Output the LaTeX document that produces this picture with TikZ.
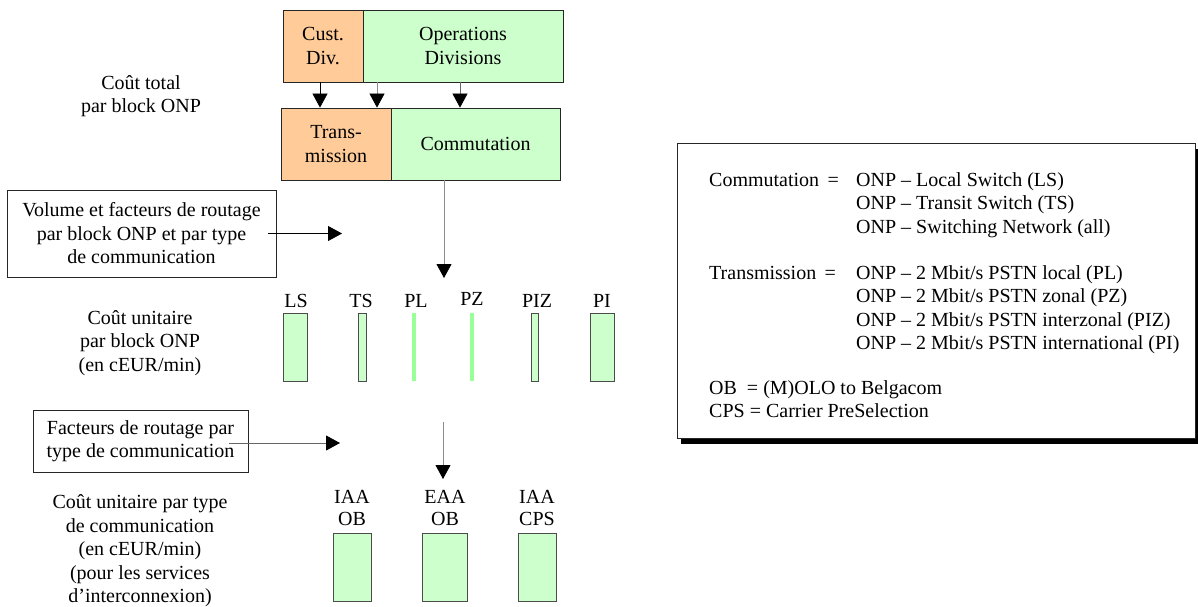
\documentclass[tikz,border=0pt]{standalone}
\usepackage{fontspec}
\setmainfont{Liberation Serif}
\newfontfamily\timesfam{Liberation Serif}
\usetikzlibrary{arrows.meta,shadows}
\definecolor{peach}{HTML}{FFCC99}
\definecolor{mint}{HTML}{CCFFCC}
\definecolor{lime}{HTML}{99FF99}
\begin{document}
\begin{tikzpicture}[x=1pt,y=-1pt,
  txt/.style={font=\timesfam\fontsize{20}{23.5}\selectfont, inner sep=0pt, align=center},
  block/.style={txt, draw=black!85, line width=0.8pt},
  orangebox/.style={block, fill=peach},
  greenbox/.style={block, fill=mint},
  framebox/.style={block, fill=white},
  bar/.style={draw=black!70, line width=0.9pt, fill=mint, inner sep=0pt},
  slimbar/.style={fill=lime, draw=none, inner sep=0pt, minimum width=4pt},
  arr/.style={draw=black!60, line width=0.8pt, -{Triangle[length=14pt,width=15pt,color=black]}},
  legtext/.style={txt, anchor=base west, align=left}]
\useasboundingbox (0,0) rectangle (1198,607);

% cost centres and ONP blocks
\node[orangebox, minimum width=80pt, minimum height=72pt] (cust) at (323,46) {Cust.\\Div.};
\node[greenbox, minimum width=200pt, minimum height=72pt] (ops) at (463,46) {Operations\\Divisions};
\node[orangebox, minimum width=110pt, minimum height=72pt] (trans) at (336,144) {Trans-\\mission};
\node[greenbox, minimum width=169pt, minimum height=72pt] (comm) at (475.5,144) {Commutation};

\draw[arr, draw=black] (cust.south -| 320,0) -- (trans.north -| 320,0);
\draw[arr, draw=black!45] (ops.south -| 377,0) -- (trans.north -| 377,0);
\draw[arr] (ops.south -| 460,0) -- (comm.north -| 460,0);

% left-hand captions
\node[txt] (ctotal) at (141,96) {Coût total\\par block ONP};
\node[txt] (cunit) at (140,343) {Coût unitaire\\par block ONP\\(en cEUR/min)};
\node[txt] (ctype) at (140,551) {Coût unitaire par type\\de communication\\(en cEUR/min)\\(pour les services\\d’interconnexion)};

% routing factors, first stage
\node[framebox, minimum width=269pt, minimum height=87pt] (vol) at (141.5,233.5)
  {Volume et facteurs de routage\\par block ONP et par type\\de communication};
\coordinate (volend) at (342,233.5);
\draw[arr, draw=black] ([xshift=-8pt]vol.east) -- (volend);
\coordinate (hubA) at (444,278);
\draw[arr, draw=black!45] (comm.south -| hubA) -- (hubA);

% unit cost per ONP block
\node[bar, minimum width=24pt, minimum height=68pt] (ls) at (295,347) {};
\node[bar, minimum width=8pt, minimum height=68pt] (ts) at (362,347) {};
\node[slimbar, minimum height=68pt] (pl) at (414,347) {};
\node[slimbar, minimum height=68pt] (pz) at (472,347) {};
\node[bar, minimum width=7pt, minimum height=68pt] (piz) at (534.5,347) {};
\node[bar, minimum width=24pt, minimum height=68pt] (pi) at (602,347) {};
\node[txt] (lsl) at (296,301) {LS};
\node[txt] (tsl) at (361,301) {TS};
\node[txt] (pll) at (416,301) {PL};
\node[txt] (pzl) at (472,299) {PZ};
\node[txt] (pizl) at (537,301) {PIZ};
\node[txt] (pil) at (602,301) {PI};

% routing factors, second stage
\node[framebox, minimum width=215pt, minimum height=62pt] (fact) at (140.5,441)
  {Facteurs de routage par\\type de communication};
\coordinate (factend) at (340,443);
\draw[arr] (fact.east |- factend) ++(-19,0) -- (factend);
\coordinate (hubBtop) at (443,422);
\coordinate (hubB) at (443,479);
\draw[arr, draw=black!45] (hubBtop) -- (hubB);

% unit cost per communication type
\node[bar, minimum width=38pt, minimum height=68pt] (iaaob) at (352,567) {};
\node[bar, minimum width=45pt, minimum height=68pt] (eaaob) at (444.5,567) {};
\node[bar, minimum width=38pt, minimum height=68pt] (iaacps) at (537,567) {};
\node[txt, font=\timesfam\fontsize{20}{22}\selectfont] (iaaobl) at (352,508) {IAA\\OB};
\node[txt, font=\timesfam\fontsize{20}{22}\selectfont] (eaaobl) at (445,508) {EAA\\OB};
\node[txt, font=\timesfam\fontsize{20}{22}\selectfont] (iaacpsl) at (537,508) {IAA\\CPS};

% legend
\node[draw=black!85, line width=0.8pt, fill=white, minimum width=518pt, minimum height=295pt, inner sep=0pt,
  drop shadow={shadow xshift=4pt, shadow yshift=-6pt, fill=black, opacity=1}] (legend) at (936,290.5) {};
\node[legtext] (l1) at (709,186) {Commutation \,=};
\node[legtext] (l1a) at (856,186) {ONP – Local Switch (LS)};
\node[legtext] (l1b) at (856,209.5) {ONP – Transit Switch (TS)};
\node[legtext] (l1c) at (856,233) {ONP – Switching Network (all)};
\node[legtext] (l2) at (709,279) {Transmission \,=};
\node[legtext] (l2a) at (856,279) {ONP – 2 Mbit/s PSTN local (PL)};
\node[legtext] (l2b) at (856,302.5) {ONP – 2 Mbit/s PSTN zonal (PZ)};
\node[legtext] (l2c) at (856,326) {ONP – 2 Mbit/s PSTN interzonal (PIZ)};
\node[legtext] (l2d) at (856,349.5) {ONP – 2 Mbit/s PSTN international (PI)};
\node[legtext] (l3) at (709,394) {OB \ = (M)OLO to Belgacom};
\node[legtext] (l4) at (709,417.5) {CPS = Carrier PreSelection};
\end{tikzpicture}
\end{document}
